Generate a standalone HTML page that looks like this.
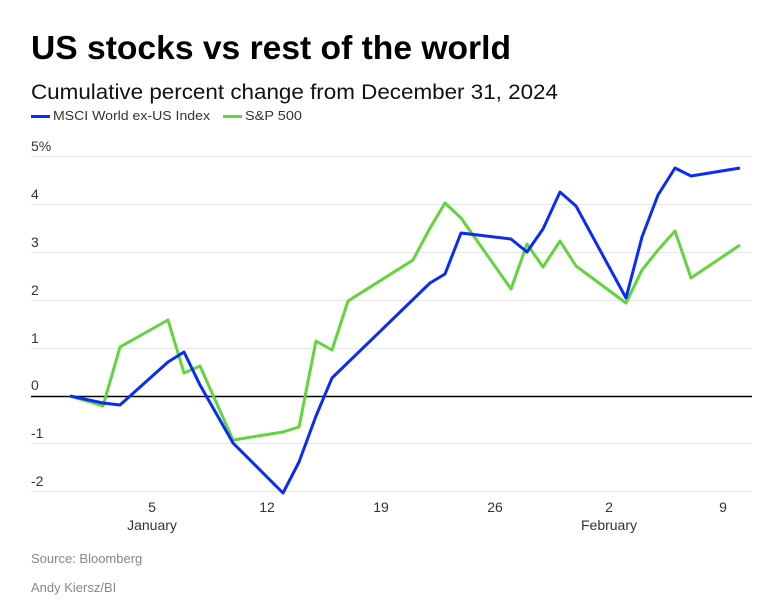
<!DOCTYPE html>
<html><head><style>
body{margin:0;background:#fff;font-family:"Liberation Sans",sans-serif;}
</style></head><body>
<svg width="769" height="595" xmlns="http://www.w3.org/2000/svg" font-family="Liberation Sans, sans-serif">
<text x="31" y="59" font-size="33" font-weight="bold" fill="#000" textLength="480" lengthAdjust="spacingAndGlyphs">US stocks vs rest of the world</text>
<text x="31" y="99" font-size="21" fill="#111" textLength="527" lengthAdjust="spacingAndGlyphs">Cumulative percent change from December 31, 2024</text>
<rect x="31" y="115" width="19" height="3" fill="#0a2cf5"/>
<text x="53" y="120" font-size="13" fill="#333" textLength="157" lengthAdjust="spacingAndGlyphs">MSCI World ex-US Index</text>
<rect x="223" y="115" width="19" height="3" fill="#62d43c"/>
<text x="245" y="120" font-size="13" fill="#333" textLength="57" lengthAdjust="spacingAndGlyphs">S&amp;P 500</text>
<g stroke="#e6e6e6" stroke-width="1">
<line x1="31" x2="752" y1="156.5" y2="156.5"/>
<line x1="31" x2="752" y1="204.5" y2="204.5"/>
<line x1="31" x2="752" y1="252.5" y2="252.5"/>
<line x1="31" x2="752" y1="300.5" y2="300.5"/>
<line x1="31" x2="752" y1="348.5" y2="348.5"/>
<line x1="31" x2="752" y1="443.5" y2="443.5"/>
<line x1="31" x2="752" y1="491.5" y2="491.5"/>
</g>
<line x1="31" x2="752" y1="396.5" y2="396.5" stroke="#000" stroke-width="1.5"/>
<g font-size="14" fill="#333">
<text x="31" y="151">5%</text>
<text x="31" y="199">4</text>
<text x="31" y="247">3</text>
<text x="31" y="295">2</text>
<text x="31" y="343">1</text>
<text x="31" y="390">0</text>
<text x="31" y="438">-1</text>
<text x="31" y="486">-2</text>
</g>
<g font-size="14" fill="#333" text-anchor="middle">
<text x="152" y="512">5</text>
<text x="152" y="530">January</text>
<text x="267" y="512">12</text>
<text x="381" y="512">19</text>
<text x="495" y="512">26</text>
<text x="609" y="512">2</text>
<text x="609" y="530">February</text>
<text x="723" y="512">9</text>
</g>
<polyline fill="none" stroke="#62d43c" stroke-width="3" stroke-linejoin="round" points="70,396 103,406 120,347 168,320 184,373 200,366 233,440 283,432 299,427 316,341 332,350 348,301 413,260 430,228 445,203 461,218 511,289 527,244 543,267 560,241 576,266 626,303 642,270 658,250 675,231 691,278 740,245"/>
<polyline fill="none" stroke="#0a2cf5" stroke-width="3" stroke-linejoin="round" points="70,396 103,403 120,405 168,362 184,352 200,385 233,443 283,493 299,462 316,416 332,378 430,283 445,274 461,233 511,239 527,252 543,229 560,192 576,206 626,298 642,237 658,195 675,168 691,176 740,168"/>
<text x="31" y="563" font-size="13" fill="#888">Source: Bloomberg</text>
<text x="31" y="592" font-size="13" fill="#888">Andy Kiersz/BI</text>
</svg>
</body></html>
